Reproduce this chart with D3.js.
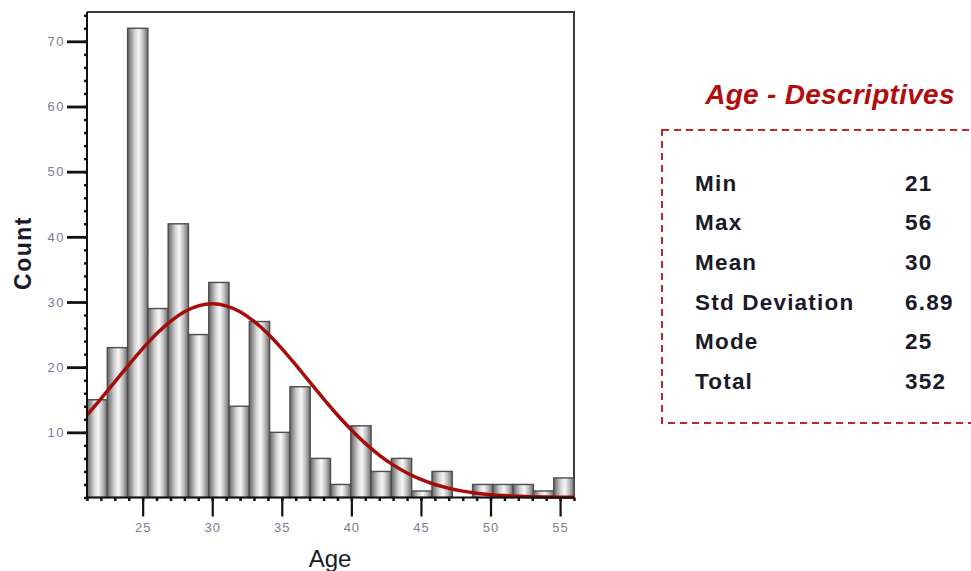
<!DOCTYPE html>
<html>
<head>
<meta charset="utf-8">
<script src="https://cdn.jsdelivr.net/npm/d3@7"></script>
<style>
  html, body { margin: 0; padding: 0; background: #fff; }
  svg { display: block; }
</style>
</head>
<body>
<svg id="chart" width="971" height="571"></svg>
<script>
// ---- Data ----
const ageMin = 21;
const ageMax = 56;
const binCounts = [15, 23, 72, 29, 42, 25, 33, 14, 27, 10, 17, 6, 2, 11, 4, 6, 1, 4, 0, 2, 2, 2, 1, 3];
const curveAges = [21,22,23,24,25,26,27,28,29,30,31,32,33,34,35,36,37,38,39,40,41,42,43,44,45,46,47,48,49,50,51,52,53,54,55,56];
const curveCounts = [12.66,15.15,17.74,20.34,22.84,25.11,27.03,28.49,29.41,29.72,29.41,28.49,27.03,25.11,22.84,20.34,17.74,15.15,12.66,10.37,8.31,6.52,5.01,3.77,2.78,2.00,1.42,0.98,0.66,0.44,0.29,0.18,0.11,0.07,0.04,0.02];
const xTickValues = [25, 30, 35, 40, 45, 50, 55];
const yTickValues = [10, 20, 30, 40, 50, 60, 70];
const statLabels = ["Min", "Max", "Mean", "Std Deviation", "Mode", "Total"];
const statValues = ["21", "56", "30", "6.89", "25", "352"];
const titleText = "Age - Descriptives";
const xLabel = "Age";
const yLabel = "Count";

// ---- Setup ----
const svg = d3.select("#chart");
const plot = { left: 87, right: 574, top: 12, bottom: 497.5 };

const x = d3.scaleLinear().domain([ageMin, ageMax]).range([plot.left, plot.right]);
const y = d3.scaleLinear().domain([0, 74.5]).range([plot.bottom, plot.top]);

const nBins = binCounts.length;
const binW = (ageMax - ageMin) / nBins;
const bins = binCounts.map((c, i) => ({ x0: ageMin + i * binW, x1: ageMin + (i + 1) * binW, count: c }));

// gradient
const defs = svg.append("defs");
const grad = defs.append("linearGradient").attr("id", "barGrad")
  .attr("x1", "0%").attr("x2", "100%").attr("y1", "0%").attr("y2", "0%");
[["0%", "#666666"], ["12%", "#8a8a8a"], ["35%", "#d4d4d4"], ["55%", "#f7f7f7"], ["75%", "#c2c2c2"], ["100%", "#6c6c6c"]]
  .forEach(([o, c]) => grad.append("stop").attr("offset", o).attr("stop-color", c));

// frame (top & right)
svg.append("path")
  .attr("d", `M${plot.left},${plot.top}H${plot.right}V${plot.bottom}`)
  .attr("fill", "none").attr("stroke", "#3c3c3c").attr("stroke-width", 2);

// bars
svg.append("g").selectAll("rect").data(bins.filter(b => b.count > 0)).join("rect")
  .attr("x", d => x(d.x0))
  .attr("y", d => y(d.count))
  .attr("width", d => x(d.x1) - x(d.x0))
  .attr("height", d => y(0) - y(d.count))
  .attr("fill", "url(#barGrad)")
  .attr("stroke", "#4e4e4e")
  .attr("stroke-width", 1.4);

// normal curve
const line = d3.line().x((d, i) => x(curveAges[i])).y(d => y(d)).curve(d3.curveMonotoneX);
svg.append("path").datum(curveCounts)
  .attr("d", line)
  .attr("fill", "none")
  .attr("stroke", "#a50d0d")
  .attr("stroke-width", 3.5)
  .attr("stroke-linejoin", "round");

// ---- Axes ----
const tickFont = "Liberation Sans, Arial, sans-serif";
const tickColor = "#7b7b94";
// y axis
const yAxis = svg.append("g").attr("transform", `translate(${plot.left},0)`);
yAxis.append("g").call(d3.axisLeft(y).tickValues(d3.range(0, 75, 2)).tickSize(3).tickFormat(""))
  .call(g => g.select(".domain").remove())
  .call(g => g.selectAll("line").attr("stroke", "#111").attr("stroke-width", 2.5));
yAxis.append("g").call(d3.axisLeft(y).tickValues(yTickValues).tickSize(20).tickPadding(2))
  .call(g => g.select(".domain").remove())
  .call(g => g.selectAll("line").attr("stroke", "#111").attr("stroke-width", 2.8))
  .call(g => g.selectAll("text").attr("fill", tickColor).attr("font-size", 13)
    .attr("letter-spacing", 1.5).attr("font-family", tickFont));
yAxis.append("line").attr("y1", plot.top).attr("y2", plot.bottom + 1)
  .attr("stroke", "#111").attr("stroke-width", 2);

// x axis
const xAxis = svg.append("g").attr("transform", `translate(0,${plot.bottom})`);
xAxis.append("g").call(d3.axisBottom(x).tickValues(d3.range(ageMin, ageMax + 1, 1)).tickSize(3.5).tickFormat(""))
  .call(g => g.select(".domain").remove())
  .call(g => g.selectAll("line").attr("stroke", "#111").attr("stroke-width", 2.5));
xAxis.append("g").call(d3.axisBottom(x).tickValues(xTickValues).tickSize(19).tickPadding(6))
  .call(g => g.select(".domain").remove())
  .call(g => g.selectAll("line").attr("stroke", "#111").attr("stroke-width", 2.2))
  .call(g => g.selectAll("text").attr("fill", tickColor).attr("font-size", 13)
    .attr("letter-spacing", 1).attr("font-family", tickFont));
xAxis.append("line").attr("x1", plot.left - 1).attr("x2", plot.right)
  .attr("stroke", "#111").attr("stroke-width", 2);

// axis titles
svg.append("text").text(xLabel)
  .attr("x", 330).attr("y", 567)
  .attr("text-anchor", "middle")
  .attr("font-family", tickFont).attr("font-size", 24).attr("fill", "#1a1a2a");
svg.append("text").text(yLabel)
  .attr("transform", "translate(31,253) rotate(-90)")
  .attr("text-anchor", "middle")
  .attr("font-family", tickFont).attr("font-weight", "bold").attr("font-size", 23)
  .attr("letter-spacing", 1.5).attr("fill", "#1a1a2a");

// ---- Descriptives panel ----
svg.append("text").text(titleText)
  .attr("x", 830).attr("y", 104)
  .attr("text-anchor", "middle")
  .attr("font-family", tickFont).attr("font-weight", "bold").attr("font-style", "italic")
  .attr("font-size", 28).attr("letter-spacing", 0.3).attr("fill", "#b20d0d");

svg.append("rect")
  .attr("x", 662).attr("y", 130).attr("width", 340).attr("height", 293)
  .attr("fill", "none").attr("stroke", "#c0272d").attr("stroke-width", 2)
  .attr("stroke-dasharray", "7,5");

const rowY = d3.scalePoint().domain(statLabels).range([183, 381]);
const rows = svg.append("g").selectAll("g").data(statLabels).join("g")
  .attr("transform", d => `translate(0,${rowY(d)})`);
rows.append("text").text(d => d)
  .attr("x", 695).attr("dy", "0.35em")
  .attr("font-family", tickFont).attr("font-weight", "bold").attr("font-size", 22.5)
  .attr("fill", "#1a1a2a").attr("letter-spacing", 1.2);
rows.append("text").text((d, i) => statValues[i])
  .attr("x", 905).attr("dy", "0.35em")
  .attr("font-family", tickFont).attr("font-weight", "bold").attr("font-size", 22.5)
  .attr("fill", "#1a1a2a").attr("letter-spacing", 1.2);
</script>
</body>
</html>
